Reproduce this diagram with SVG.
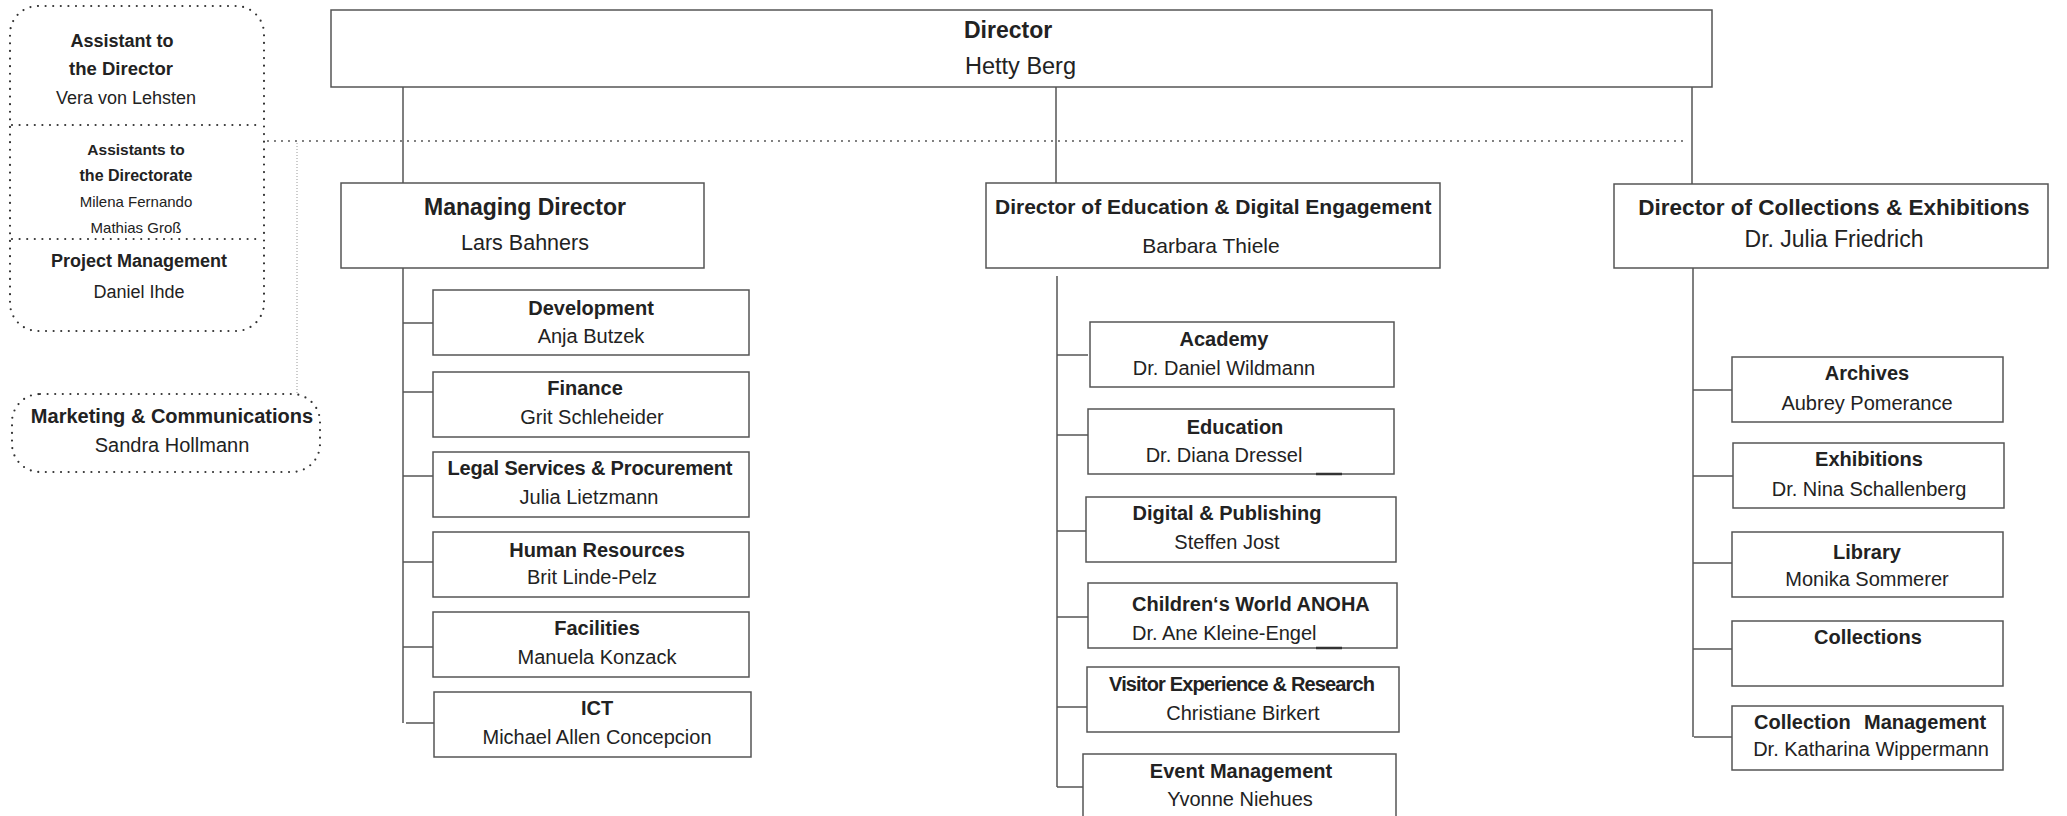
<svg xmlns="http://www.w3.org/2000/svg" width="2067" height="816" viewBox="0 0 2067 816">
<style>
.box{fill:#fff;stroke:#555;stroke-width:1.5}
.ln{stroke:#555;stroke-width:1.5;fill:none}
.dot{fill:none;stroke:#333;stroke-width:2.2;stroke-dasharray:0 7.6;stroke-linecap:round}
.dot2{fill:none;stroke:#444;stroke-width:1.8;stroke-dasharray:0 7;stroke-linecap:round}
.fine{fill:none;stroke:#999;stroke-width:1;stroke-dasharray:1 2}
.art{stroke:#333;stroke-width:2.5}
text{font-family:"Liberation Sans",Arial,sans-serif;fill:#222;text-anchor:middle}
.b{font-weight:bold}
.s20{font-size:20px}
</style>
<rect width="2067" height="816" fill="#fff"/>

<g id="connectors">
  <line class="ln" x1="403" y1="87" x2="403" y2="183"/>
  <line class="ln" x1="1056" y1="87" x2="1056" y2="183"/>
  <line class="ln" x1="1692" y1="87" x2="1692" y2="184"/>
  <line class="dot2" x1="268" y1="141" x2="1687" y2="141"/>
  <line class="fine" x1="297" y1="143" x2="297" y2="394"/>
  <!-- Managing director trunk -->
  <line class="ln" x1="403" y1="268" x2="403" y2="723"/>
  <line class="ln" x1="403" y1="323" x2="433" y2="323"/>
  <line class="ln" x1="403" y1="392" x2="433" y2="392"/>
  <line class="ln" x1="403" y1="476" x2="433" y2="476"/>
  <line class="ln" x1="403" y1="562" x2="433" y2="562"/>
  <line class="ln" x1="403" y1="647" x2="433" y2="647"/>
  <line class="ln" x1="406" y1="723" x2="434" y2="723"/>
  <!-- Education trunk -->
  <line class="ln" x1="1057" y1="276" x2="1057" y2="787"/>
  <line class="ln" x1="1057" y1="355" x2="1088" y2="355"/>
  <line class="ln" x1="1057" y1="435" x2="1088" y2="435"/>
  <line class="ln" x1="1057" y1="531" x2="1088" y2="531"/>
  <line class="ln" x1="1057" y1="617" x2="1088" y2="617"/>
  <line class="ln" x1="1057" y1="707" x2="1087" y2="707"/>
  <line class="ln" x1="1057" y1="787" x2="1083" y2="787"/>
  <!-- Collections trunk -->
  <line class="ln" x1="1693" y1="268" x2="1693" y2="737"/>
  <line class="ln" x1="1693" y1="390" x2="1732" y2="390"/>
  <line class="ln" x1="1693" y1="476" x2="1733" y2="476"/>
  <line class="ln" x1="1693" y1="563" x2="1732" y2="563"/>
  <line class="ln" x1="1693" y1="649" x2="1732" y2="649"/>
  <line class="ln" x1="1694" y1="737" x2="1732" y2="737"/>
</g>

<g id="assistants">
  <rect class="dot" x="10" y="6" width="254" height="325" rx="28"/>
  <line class="dot" x1="12" y1="125" x2="262" y2="125"/>
  <line class="dot" x1="12" y1="239" x2="262" y2="239"/>
  <text class="b" x="122" y="47" font-size="18">Assistant to</text>
  <text class="b" x="121" y="75" font-size="18.5">the Director</text>
  <text x="126" y="104" font-size="18">Vera von Lehsten</text>
  <text class="b" x="136" y="155" font-size="15.5">Assistants to</text>
  <text class="b" x="136" y="181" font-size="16">the Directorate</text>
  <text x="136" y="207" font-size="15">Milena Fernando</text>
  <text x="136" y="233" font-size="15">Mathias Groß</text>
  <text class="b" x="139" y="267" font-size="18">Project Management</text>
  <text x="139" y="298" font-size="18">Daniel Ihde</text>
</g>

<g id="marketing">
  <rect class="dot" x="12" y="394" width="308" height="78" rx="28"/>
  <text class="b s20" x="172" y="423">Marketing &amp; Communications</text>
  <text class="s20" x="172" y="452">Sandra Hollmann</text>
</g>

<g id="director">
  <rect class="box" x="331" y="10" width="1381" height="77"/>
  <text class="b" x="964" y="38" font-size="23" style="text-anchor:start">Director</text>
  <text x="965" y="74" font-size="23.5" style="text-anchor:start">Hetty Berg</text>
</g>

<g id="managing-director">
  <rect class="box" x="341" y="183" width="363" height="85"/>
  <text class="b" x="525" y="215" font-size="23">Managing Director</text>
  <text x="525" y="250" font-size="21.5">Lars Bahners</text>
</g>

<g id="director-education">
  <rect class="box" x="986" y="183" width="454" height="85"/>
  <text class="b" x="995" y="214" font-size="21" style="text-anchor:start">Director of Education &amp; Digital Engagement</text>
  <text x="1211" y="253" font-size="21">Barbara Thiele</text>
</g>

<g id="director-collections">
  <rect class="box" x="1614" y="184" width="434" height="84"/>
  <text class="b" x="1834" y="215" font-size="22.5">Director of Collections &amp; Exhibitions</text>
  <text x="1834" y="247" font-size="23">Dr. Julia Friedrich</text>
</g>

<!-- Managing Director units -->
<g id="development">
  <rect class="box" x="433" y="290" width="316" height="65"/>
  <text class="b s20" x="591" y="315">Development</text>
  <text class="s20" x="591" y="343">Anja Butzek</text>
</g>
<g id="finance">
  <rect class="box" x="433" y="372" width="316" height="65"/>
  <text class="b s20" x="585" y="395">Finance</text>
  <text class="s20" x="592" y="424">Grit Schleheider</text>
</g>
<g id="legal">
  <rect class="box" x="433" y="452" width="316" height="65"/>
  <text class="b s20" x="590" y="475" textLength="285">Legal Services &amp; Procurement</text>
  <text class="s20" x="589" y="504">Julia Lietzmann</text>
</g>
<g id="hr">
  <rect class="box" x="433" y="532" width="316" height="65"/>
  <text class="b s20" x="597" y="557">Human Resources</text>
  <text class="s20" x="592" y="584">Brit Linde-Pelz</text>
</g>
<g id="facilities">
  <rect class="box" x="433" y="612" width="316" height="65"/>
  <text class="b s20" x="597" y="635">Facilities</text>
  <text class="s20" x="597" y="664">Manuela Konzack</text>
</g>
<g id="ict">
  <rect class="box" x="434" y="692" width="317" height="65"/>
  <text class="b s20" x="597" y="715">ICT</text>
  <text class="s20" x="597" y="744">Michael Allen Concepcion</text>
</g>

<!-- Education units -->
<g id="academy">
  <rect class="box" x="1090" y="322" width="304" height="65"/>
  <text class="b s20" x="1224" y="346">Academy</text>
  <text class="s20" x="1224" y="375">Dr. Daniel Wildmann</text>
</g>
<g id="education">
  <rect class="box" x="1088" y="409" width="306" height="65"/>
  <line class="art" x1="1316" y1="474" x2="1342" y2="474"/>
  <text class="b s20" x="1235" y="434">Education</text>
  <text class="s20" x="1224" y="462">Dr. Diana Dressel</text>
</g>
<g id="digital-publishing">
  <rect class="box" x="1086" y="497" width="310" height="65"/>
  <text class="b s20" x="1227" y="520">Digital &amp; Publishing</text>
  <text class="s20" x="1227" y="549">Steffen Jost</text>
</g>
<g id="childrens-world">
  <rect class="box" x="1088" y="583" width="309" height="65"/>
  <line class="art" x1="1316" y1="648" x2="1342" y2="648"/>
  <text class="b s20" x="1132" y="611" style="text-anchor:start">Children‘s World ANOHA</text>
  <text class="s20" x="1132" y="640" style="text-anchor:start">Dr. Ane Kleine-Engel</text>
</g>
<g id="visitor-experience">
  <rect class="box" x="1087" y="667" width="312" height="65"/>
  <text class="b s20" x="1242" y="691" textLength="266">Visitor Experience &amp; Research</text>
  <text class="s20" x="1243" y="720">Christiane Birkert</text>
</g>
<g id="event-management">
  <rect class="box" x="1083" y="754" width="313" height="80"/>
  <text class="b s20" x="1241" y="778">Event Management</text>
  <text class="s20" x="1240" y="806">Yvonne Niehues</text>
</g>

<!-- Collections units -->
<g id="archives">
  <rect class="box" x="1732" y="357" width="271" height="65"/>
  <text class="b s20" x="1867" y="380">Archives</text>
  <text class="s20" x="1867" y="410">Aubrey Pomerance</text>
</g>
<g id="exhibitions">
  <rect class="box" x="1733" y="443" width="271" height="65"/>
  <text class="b s20" x="1869" y="466">Exhibitions</text>
  <text class="s20" x="1869" y="496">Dr. Nina Schallenberg</text>
</g>
<g id="library">
  <rect class="box" x="1732" y="532" width="271" height="65"/>
  <text class="b s20" x="1867" y="559">Library</text>
  <text class="s20" x="1867" y="586">Monika Sommerer</text>
</g>
<g id="collections">
  <rect class="box" x="1732" y="621" width="271" height="65"/>
  <text class="b s20" x="1868" y="644">Collections</text>
</g>
<g id="collection-management">
  <rect class="box" x="1732" y="706" width="271" height="64"/>
  <text class="b s20" y="729" style="text-anchor:start"><tspan x="1754">Collection</tspan><tspan x="1864">Management</tspan></text>
  <text class="s20" x="1871" y="756">Dr. Katharina Wippermann</text>
</g>
</svg>
